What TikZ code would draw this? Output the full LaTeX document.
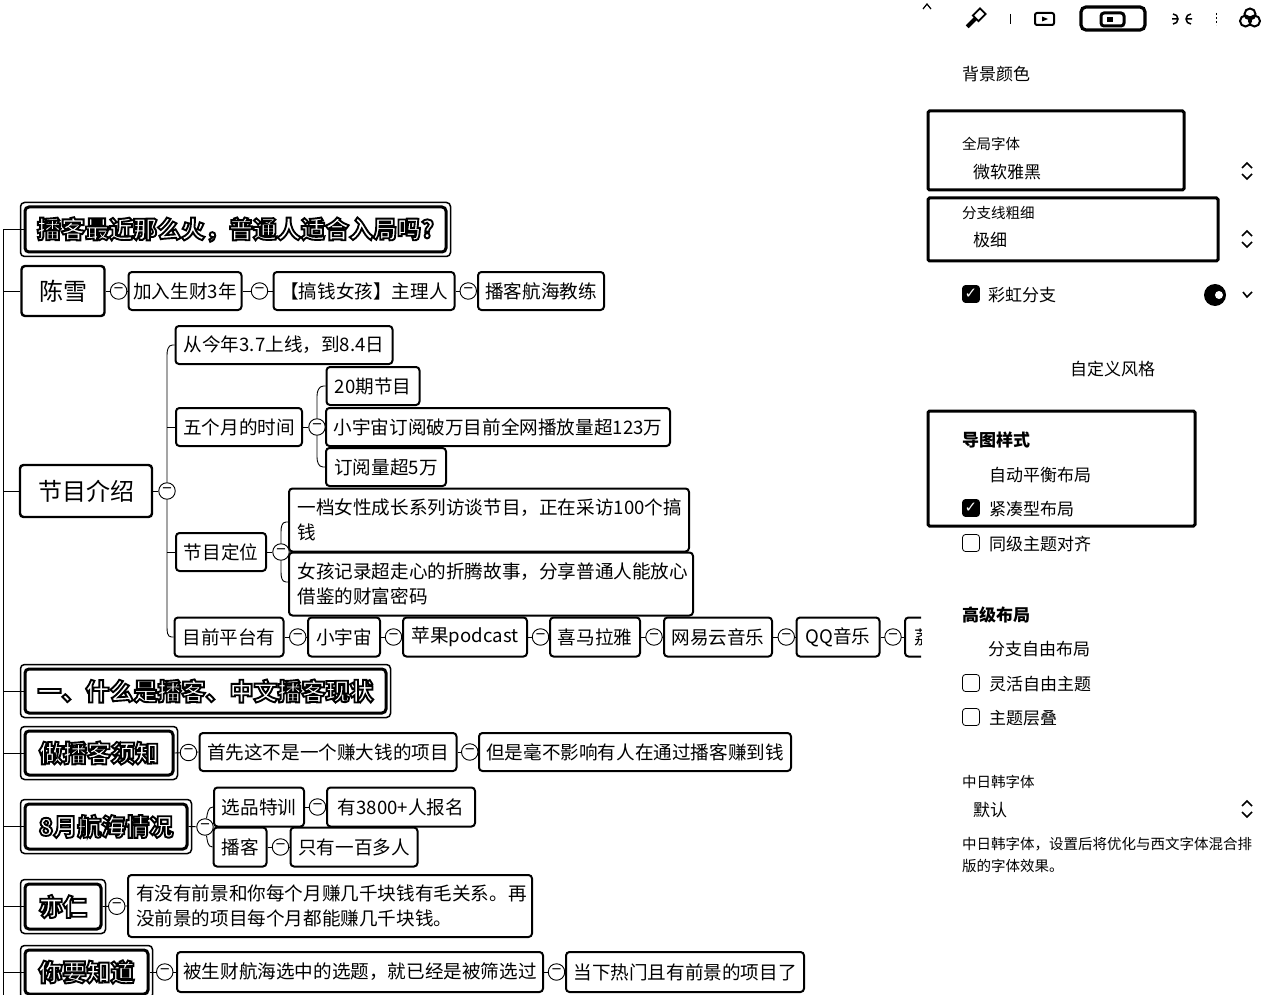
\documentclass[tikz,border=0pt]{standalone}
\usepackage{fontspec}
\usetikzlibrary{calc}
\setmainfont{Noto Sans CJK SC}
\newfontfamily\symf{DejaVu Sans}
\newcommand{\fs}[1]{\fontsize{#1pt}{25pt}\selectfont}
\newcommand{\outl}[1]{\special{pdf:code q 2 Tr 1.9 w 0 G 1 g}#1\special{pdf:code Q}}
\tikzset{
 topic/.style={draw,line width=2pt,rounded corners=3.5pt,inner sep=0pt,font=\fs{18.6},align=left},
 root/.style={draw,line width=2.4pt,rounded corners=3.5pt,inner sep=0pt,font=\fs{24}},
 head/.style={draw,line width=3pt,rounded corners=4pt,inner sep=0pt,font=\bfseries\fs{24}},
 headout/.style={line width=1.5pt,rounded corners=4pt},
 lnk/.style={line width=.9pt},
 tog/.style={draw,circle,line width=.9pt,fill=white,minimum size=16.5pt,inner sep=0pt,font=\fs{17}},
 panel/.style={draw,line width=3pt,rounded corners=1.5pt},
 lbl/.style={inner sep=0pt,anchor=west,font=\fs{17},yshift=-.8pt},
 chk/.style={draw,line width=.8pt,rounded corners=3pt,minimum size=17pt,inner sep=0pt},
 chkd/.style={chk,fill=black,text=white,font=\symf\bfseries\fs{15}},
}
\begin{document}
\begin{tikzpicture}[x=1pt,y=-1pt]
\useasboundingbox (0,0) rectangle (1280,995);
\def\bx#1#2#3#4#5#6{\node[#2,minimum width=#5 pt,minimum height=#6 pt] (#1) at (#3,#4)}
\def\hx#1#2#3#4#5#6{\draw[headout] ($(#2,#3)+(-#4/2-4.5,-#5/2-4.5)$) rectangle ($(#2,#3)+(#4/2+4.5,#5/2+4.5)$);
  \node[head,minimum width=#4 pt,minimum height=#5 pt] (#1) at (#2,#3) {\outl{#6}};}
\hx{t0}{235.5}{229.5}{421}{45}{播客最近那么火，普通人适合入局吗?}
\bx{cx}{root}{63}{291}{83}{50}{陈雪};
\bx{cx1}{topic}{185}{291}{113}{38}{加入生财3年};
\bx{cx2}{topic}{364}{291}{181}{38}{【搞钱女孩】主理人};
\bx{cx3}{topic}{541}{291}{126}{38}{播客航海教练};
\bx{jm}{root}{86}{491}{132}{52}{节目介绍};
\bx{a1}{topic}{284}{345}{217}{38}{从今年3.7上线，到8.4日};
\bx{a2}{topic}{239}{427}{126}{38}{五个月的时间};
\bx{a21}{topic}{373}{386}{93}{38}{20期节目};
\bx{a22}{topic}{498}{427}{344}{38}{小宇宙订阅破万目前全网播放量超123万};
\bx{a23}{topic}{386}{467}{120}{38}{订阅量超5万};
\bx{a3}{topic}{221}{552}{90}{38}{节目定位};
\bx{a31}{topic}{489}{520}{400}{63}{\parbox{383pt}{一档女性成长系列访谈节目，正在采访100个搞\\钱}};
\bx{a32}{topic}{491}{584}{404}{63}{\parbox{387pt}{女孩记录超走心的折腾故事，分享普通人能放心\\借鉴的财富密码}};
\bx{a4}{topic}{229}{637}{109}{39}{目前平台有};
\bx{p1}{topic}{344}{637}{72}{39}{小宇宙};
\bx{p2}{topic}{465}{637}{124}{39}{苹果podcast};
\bx{p3}{topic}{595}{637}{90}{39}{喜马拉雅};
\bx{p4}{topic}{718}{637}{108}{39}{网易云音乐};
\bx{p5}{topic}{838}{637}{83}{39}{QQ音乐};
\begin{scope}
\clip (890,610) rectangle (921,665);
\bx{p6}{topic}{950}{637}{90}{39}{\hspace*{-52pt}荔};
\end{scope}
\hx{t1}{205.5}{691}{361}{44}{一、什么是播客、中文播客现状}
\hx{t2}{99}{753}{148}{44}{做播客须知}
\hx{t3}{106}{826.5}{162}{45}{8月航海情况}
\hx{t4}{63}{906.5}{76}{45}{亦仁}
\hx{t5}{86.5}{972}{123}{44}{你要知道}
\bx{b1}{topic}{328}{752}{257}{38}{首先这不是一个赚大钱的项目};
\bx{b2}{topic}{635}{752}{312}{38}{但是毫不影响有人在通过播客赚到钱};
\bx{c1}{topic}{259}{807}{90}{39}{选品特训};
\bx{c11}{topic}{401}{807}{148}{39}{有3800+人报名};
\bx{c2}{topic}{240}{847}{53}{39}{播客};
\bx{c21}{topic}{354}{847}{127}{39}{只有一百多人};
\bx{d1}{topic}{330}{906}{404}{62}{\parbox{388pt}{有没有前景和你每个月赚几千块钱有毛关系。再\\没前景的项目每个月都能赚几千块钱。}};
\bx{e1}{topic}{360}{972}{366}{40}{被生财航海选中的选题，就已经是被筛选过};
\bx{e2}{topic}{685}{972}{238}{40}{当下热门且有前景的项目了};
\coordinate (tr) at (3,230);
\coordinate (trb) at (3,995);
\draw[lnk] (tr) -- (trb);
\foreach \n in {t0,cx,jm,t1,t2,t3,t4,t5}{\draw[lnk] (\n.west) -- (\n.west -| tr);}
\foreach \l/\r in {cx/cx1,cx1/cx2,cx2/cx3,a4/p1,p1/p2,p2/p3,p3/p4,p4/p5,t2/b1,b1/b2,c1/c11,c2/c21,t4/d1,t5/e1,e1/e2}{
 \draw[lnk] (\l.east) -- (\r.west);
 \node[tog] at ($(\l.east)!.5!(\r.west)+(2,0)$) {−};
}
\draw[lnk] (p5.east) -- (p6.west);
\node[tog] at (893,637) {−};
\node[tog] (tjm) at (167,491) {−};
\draw[lnk] (jm.east) -- (tjm);
\draw[lnk] (a1.west) -- ++(-2,0) to[out=180,in=90] (167,355) -- (tjm);
\draw[lnk] (a4.west) -- ++(-2,0) to[out=180,in=-90] (167,627) -- (tjm);
\draw[lnk] (a2.west) -- (167,427);
\draw[lnk] (a3.west) -- (167,552);
\node[tog] (ta2) at (317,427) {−};
\draw[lnk] (a2.east) -- (ta2);
\draw[lnk] (a21.west) -- ++(-2,0) to[out=180,in=90] (317,396) -- (ta2);
\draw[lnk] (a23.west) -- ++(-2,0) to[out=180,in=-90] (317,457) -- (ta2);
\draw[lnk] (ta2) -- (a22.west);
\node[tog] (ta3) at (281,552) {−};
\draw[lnk] (a3.east) -- (ta3);
\draw[lnk] (a31.west) ++(0,2) -- ++(-2,0) to[out=180,in=90] (281,532) -- (ta3);
\draw[lnk] (a32.west) ++(0,-2) -- ++(-2,0) to[out=180,in=-90] (281,572) -- (ta3);
\node[tog] (tt3) at (205,827) {−};
\draw[lnk] (t3.east) -- (tt3);
\draw[lnk] (c1.west) to[out=180,in=80] (tt3);
\draw[lnk] (c2.west) to[out=180,in=-80] (tt3);
% side panel
\draw[line width=1.2pt] (923,9) -- (927,4) -- (931,9);
\begin{scope}[rotate around={-45:(975,19)}]
\draw[line width=1.8pt] (971,8) rectangle (979,18);
\fill (973,18) rectangle (977,30);
\end{scope}
\draw[line width=1pt] (1010,14) -- (1010,24);
\draw[line width=2pt,rounded corners=2pt] (1035,13) rectangle (1054,25);
\fill (1042,16.5) -- (1048,19) -- (1042,21.5) -- cycle;
\draw[line width=3.2pt,rounded corners=5pt] (1081,7) rectangle (1145,30);
\draw[line width=3pt,rounded corners=3pt,fill=white] (1101,13) rectangle (1124,26);
\fill (1107,17) rectangle (1113,22);
\draw[line width=1.5pt] (1173,14) arc[start angle=-90,end angle=90,radius=5] (1172,19) -- (1178,19);
\draw[line width=1.5pt] (1191,14) arc[start angle=-90,end angle=-270,radius=5] (1186,19) -- (1192,19);
\draw[line width=1pt,dash pattern=on 2pt off 2pt] (1216,13) -- (1216,25);
\draw[line width=2pt] (1250,14) circle (5.5pt) (1245.5,21) circle (5.5pt) (1254.5,21) circle (5.5pt);
\node[lbl] (bg) at (962,73) {背景颜色};
\draw[panel] (928,111) rectangle (1184,190);
\node[lbl,font=\fs{14.5}] (f1) at (962,143) {全局字体};
\node[lbl] (f2) at (973,171) {微软雅黑};
\draw[panel] (928,198) rectangle (1218,261);
\node[lbl,font=\fs{14.5}] (w1) at (962,212) {分支线粗细};
\node[lbl] (w2) at (973,239) {极细};
\foreach \y in {171,239,809}{
 \draw[line width=1.6pt] (1242,\y-3) -- (1247,\y-8) -- (1252,\y-3);
 \draw[line width=1.6pt] (1242,\y+3) -- (1247,\y+8) -- (1252,\y+3);
}
\node[chkd] (k1) at (971,294) {✓};
\node[lbl] (r1) at (988,294) {彩虹分支};
\fill (1215,295) circle (11pt);
\fill[white] (1219,295) circle (4pt);
\draw[line width=1.6pt] (1243,292) -- (1247,297) -- (1252,292);
\node[lbl] (cu) at (1070,368) {自定义风格};
\draw[panel] (928,411) rectangle (1195,526);
\node[lbl,font=\bfseries\fs{17}] (h1) at (962,439) {导图样式};
\node[lbl] (o1) at (989,474) {自动平衡布局};
\node[chkd] (k2) at (971,508) {✓};
\node[lbl] (o2) at (989,508) {紧凑型布局};
\node[chk] (k3) at (971,543) {};
\node[lbl] (o3) at (989,543) {同级主题对齐};
\node[lbl,font=\bfseries\fs{17}] (h2) at (962,614) {高级布局};
\node[lbl] (o4) at (988,648) {分支自由布局};
\node[chk] (k4) at (971,683) {};
\node[lbl] (o5) at (989,683) {灵活自由主题};
\node[chk] (k5) at (971,717) {};
\node[lbl] (o6) at (989,717) {主题层叠};
\node[lbl,font=\fs{14.5}] (m1) at (962,781) {中日韩字体};
\node[lbl] (m2) at (973,809) {默认};
\node[lbl,font=\fs{14.5}] (m3) at (962,843) {中日韩字体，设置后将优化与西文字体混合排};
\node[lbl,font=\fs{14.5}] (m4) at (962,865) {版的字体效果。};
\end{tikzpicture}
\end{document}
